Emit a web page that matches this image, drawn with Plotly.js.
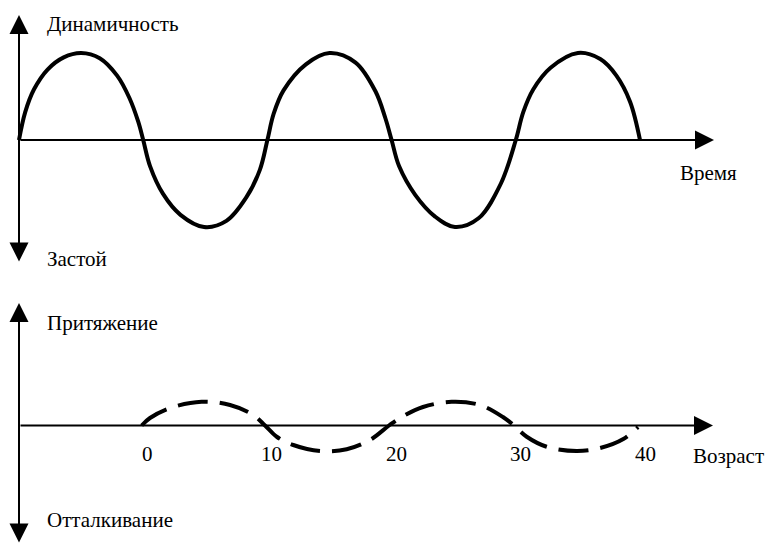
<!DOCTYPE html>
<html>
<head>
<meta charset="utf-8">
<script src="https://cdn.plot.ly/plotly-3.0.1.min.js"></script>
<style>
html, body { margin: 0; padding: 0; background: #ffffff; }
#chart { width: 767px; height: 545px; }
</style>
</head>
<body>
<div id="chart"></div>
<script>
// ---------- Top panel: dynamism over time ----------
const timeValues = [
  0, 0.5, 1.2, 2.3, 3.6, 5.0, 6.5, 7.9, 8.9, 9.6, 10.0,
  10.55, 11.6, 13.0, 14.9, 16.7, 18.3, 19.4, 20.0,
  20.5, 21.3, 23.1, 25.0, 27.1, 28.7, 29.5, 30.0,
  30.6, 31.9, 33.5, 35.1, 37.0, 38.8, 40.0,
  40.6, 41.4, 42.8, 45.0, 46.8, 48.1, 49.2, 50.0
];
const dynamismValues = [
  0, 3.2, 5.8, 8.1, 9.5, 10.0, 9.4, 7.4, 4.8, 2.1, 0,
  -3.0, -6.2, -8.6, -10.0, -9.3, -6.6, -3.4, 0,
  3.0, 5.7, 8.7, 10.0, 8.9, 5.6, 2.5, 0,
  -3.0, -6.3, -8.8, -10.0, -9.0, -5.0, 0,
  3.2, 5.8, 8.3, 10.0, 9.3, 7.4, 4.4, 0
];

// ---------- Bottom panel: attraction over age ----------
const ageValues = [
  -0.43, 0.24, 1.85, 4.39, 6.67, 8.54, 9.48,
  10.42, 11.75, 13.9, 16.04, 17.91, 19.44,
  20.32, 22.17, 24.47, 26.75, 28.59, 29.48,
  30.5, 32.1, 34.51, 36.39, 38.26, 39.44
];
const attractionValues = [
  0, 3.0, 7.0, 9.5, 8.2, 4.2, 0,
  -4.5, -7.8, -10.2, -9.5, -5.8, 0,
  3.0, 7.4, 9.5, 8.2, 3.4, 0,
  -4.5, -8.5, -10.2, -9.0, -5.4, -0.6
];
const ageTicks = [0, 10, 20, 30, 40];
const ageTickLabels = ['0', '10', '20', '30', '40'];

// ---------- Texts ----------
const topUpLabel = 'Динамичность';
const topDownLabel = 'Застой';
const topAxisLabel = 'Время';
const bottomUpLabel = 'Притяжение';
const bottomDownLabel = 'Отталкивание';
const bottomAxisLabel = 'Возраст';

// ---------- Geometry (pixels of the 767x545 canvas) ----------
const W = 767, H = 545;
const FS = 21;

function xRange(px0, ppu) { return [-px0 / ppu, (W - px0) / ppu]; }
function yRange(py0, ppu) { return [-(H - py0) / ppu, py0 / ppu]; }
const px = v => v / W;
const py = v => 1 - v / H;

const traces = [
  {
    x: timeValues, y: dynamismValues, xaxis: 'x', yaxis: 'y',
    type: 'scatter', mode: 'lines', hoverinfo: 'skip',
    line: { color: '#000000', width: 4, shape: 'spline', smoothing: 1 }
  },
  {
    x: ageValues, y: attractionValues, xaxis: 'x2', yaxis: 'y2',
    type: 'scatter', mode: 'lines', hoverinfo: 'skip',
    line: { color: '#000000', width: 4, shape: 'spline', smoothing: 1, dash: '30px,12px' }
  }
];

function axisArrow(headX, headY, tailX, tailY, both) {
  return {
    xref: 'paper', yref: 'paper', x: px(headX), y: py(headY),
    ax: tailX - headX, ay: tailY - headY, axref: 'pixel', ayref: 'pixel',
    text: '', showarrow: true,
    arrowhead: 2, arrowsize: 1.9, arrowwidth: 2, arrowcolor: '#000000',
    arrowside: both ? 'end+start' : 'end',
    startarrowhead: 2, startarrowsize: 1.9, standoff: 0, startstandoff: 0
  };
}
function label(text, leftX, midY) {
  return {
    xref: 'paper', yref: 'paper', x: px(leftX), y: py(midY),
    xanchor: 'left', yanchor: 'middle', showarrow: false, text: text,
    font: { family: 'Liberation Serif', size: FS, color: '#000' }
  };
}

const annotations = [
  axisArrow(19, 15, 19, 263, true),
  axisArrow(714, 140, 19, 140, false),
  axisArrow(19, 303, 19, 544, true),
  axisArrow(713, 425.5, 19, 425.5, false),
  label(topUpLabel, 45, 24),
  label(topDownLabel, 45, 259),
  label(topAxisLabel, 678, 173),
  label(bottomUpLabel, 45, 323),
  label(bottomDownLabel, 45, 520),
  label(bottomAxisLabel, 691, 456)
];
ageTicks.forEach((v, i) => {
  annotations.push({
    xref: 'x2', yref: 'paper', x: v, y: py(453.5),
    xanchor: 'center', yanchor: 'middle', showarrow: false, text: ageTickLabels[i],
    font: { family: 'Liberation Serif', size: FS, color: '#000' }
  });
});

const hidden = { visible: false, fixedrange: true, showgrid: false, zeroline: false };
const layout = {
  width: W, height: H,
  margin: { l: 0, r: 0, t: 0, b: 0, pad: 0 },
  paper_bgcolor: '#ffffff', plot_bgcolor: 'rgba(0,0,0,0)',
  showlegend: false,
  xaxis: Object.assign({ domain: [0, 1], range: xRange(19, 12.42), anchor: 'y' }, hidden),
  yaxis: Object.assign({ domain: [0, 1], range: yRange(140, 8.7), anchor: 'x' }, hidden),
  xaxis2: Object.assign({ domain: [0, 1], range: xRange(147, 12.45), anchor: 'y2' }, hidden),
  yaxis2: Object.assign({ domain: [0, 1], range: yRange(425.5, 2.5), anchor: 'x2' }, hidden),
  annotations: annotations
};

Plotly.newPlot('chart', traces, layout, { staticPlot: true, displayModeBar: false });
</script>
</body>
</html>
